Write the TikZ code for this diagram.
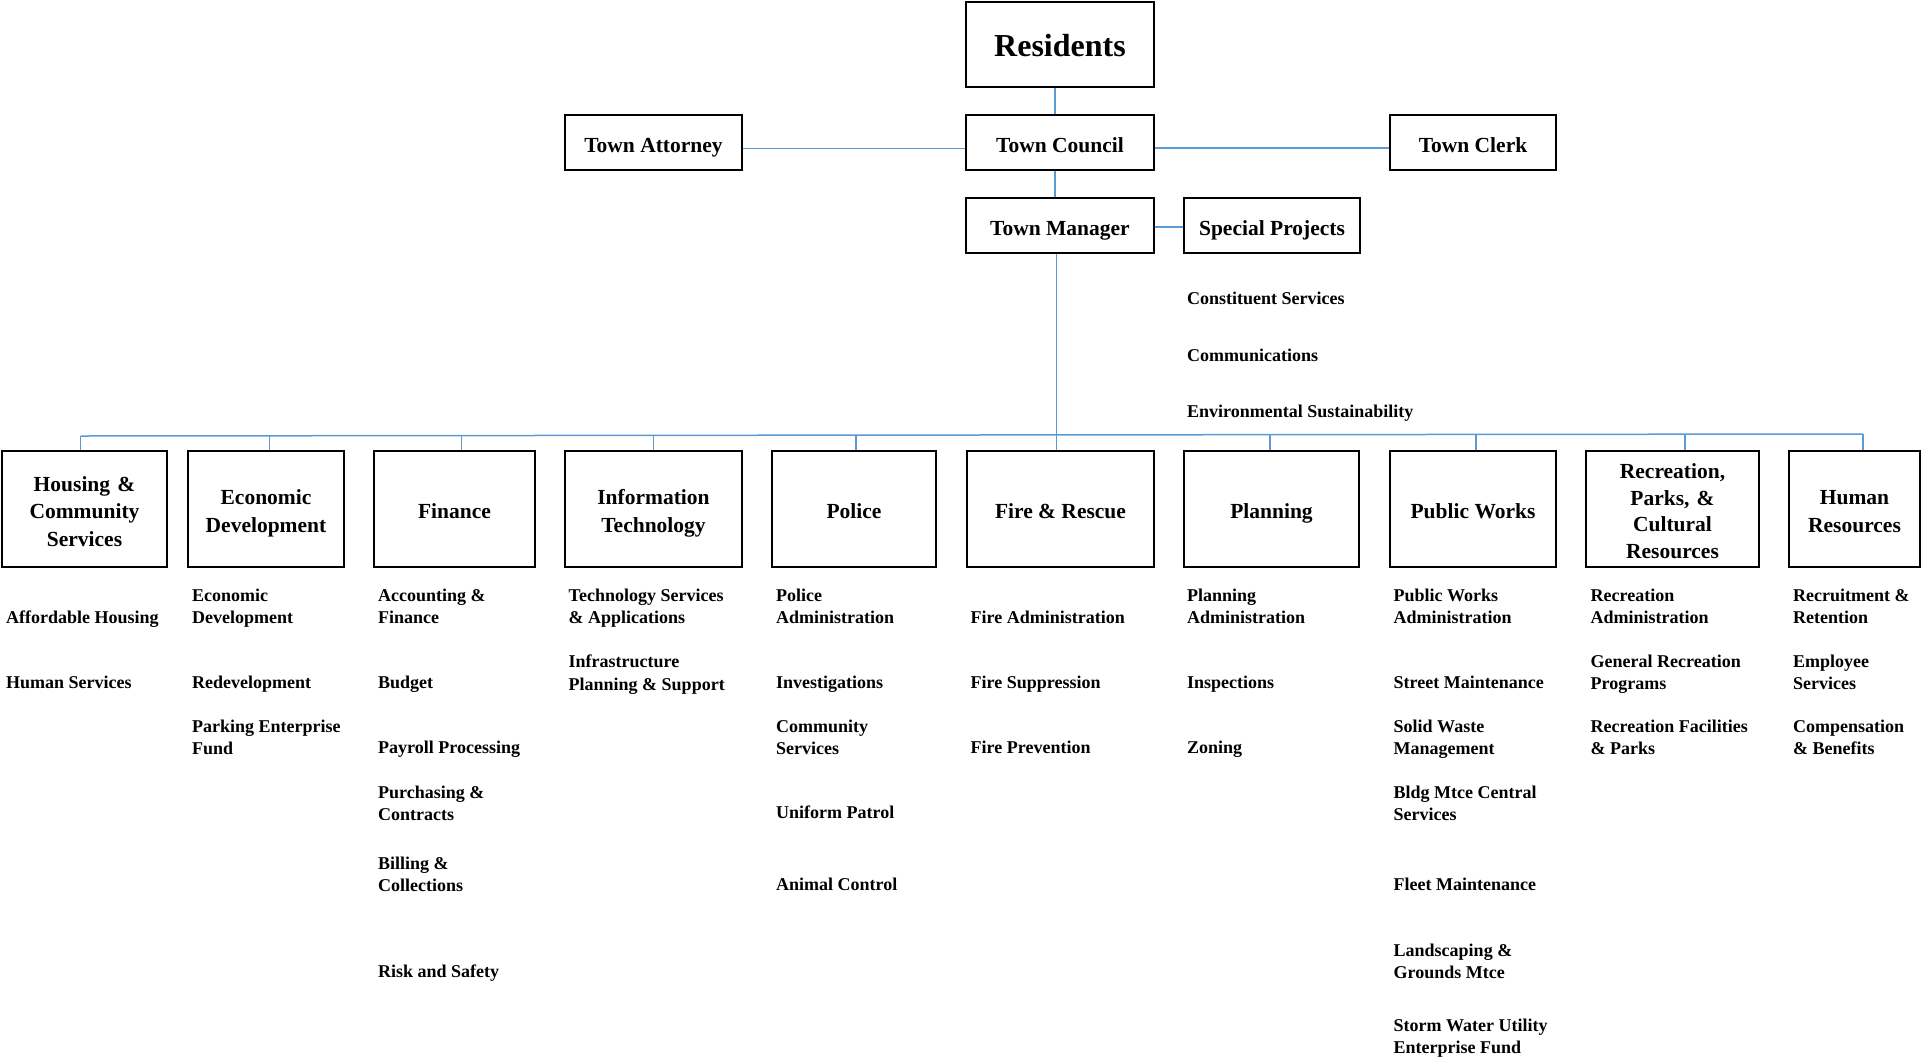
\documentclass[tikz,border=0pt]{standalone}
\usepackage{fontspec}
\setmainfont{Liberation Serif}
\definecolor{linkblue}{RGB}{91,155,213}
\tikzset{
    unit/.style={draw,line width=2pt,inner sep=0pt,minimum height=55pt,align=center,font=\fontsize{21.5}{27.5}\selectfont\bfseries,
        execute at begin node={\rule{0pt}{27.25pt}},execute at end node={\rule[-8.25pt]{0pt}{8.25pt}}},
    dept/.style={unit,minimum height=116pt},
    dept2/.style={dept,minimum width=#1,text width=#1},
    item/.style={anchor=north west,inner sep=0pt,align=left,yshift=15.75pt,font=\fontsize{18}{22.5}\selectfont\bfseries,execute at begin node=\strut},
    item2/.style={item,yshift=-4.5pt},
    link/.style={draw=linkblue,line width=1.5pt}
}
\begin{document}
\begin{tikzpicture}[x=1pt,y=-1pt]
        \useasboundingbox (0,0) rectangle (1921,1058);
        %% top of the chart
        \node[unit,line width=2.5pt,minimum width=188pt,minimum height=85pt,font=\fontsize{32}{38}\selectfont\bfseries,execute at begin node={\rule{0pt}{32.25pt}}] (residents) at (1060,44.5) {Residents};
        \node[unit,minimum width=177pt] (attorney) at (653.5,142.5) {Town Attorney};
        \node[unit,minimum width=188pt] (council) at (1060,142.5) {Town Council};
        \node[unit,minimum width=166pt] (clerk) at (1473,142.5) {Town Clerk};
        \node[unit,minimum width=188pt] (manager) at (1060,225.5) {Town Manager};
        \node[unit,minimum width=176pt] (special) at (1272,225.5) {Special Projects};
        \node[item] (sp1) at (1187,304) {Constituent Services};
        \node[item] (sp2) at (1187,361) {Communications};
        \node[item] (sp3) at (1187,417) {Environmental Sustainability};
        %% departments
        \node[dept2=165pt] (housing) at (84.5,509) {Housing \&\\Community\\Services};
        \node[dept2=156pt] (econ) at (266,509) {Economic\\Development};
        \node[dept,minimum width=161pt] (finance) at (454.5,509) {Finance};
        \node[dept2=177pt] (it) at (653.5,509) {Information\\Technology};
        \node[dept,minimum width=164.5pt] (police) at (854,509) {Police};
        \node[dept,minimum width=187pt] (fire) at (1060.5,509) {Fire \& Rescue};
        \node[dept,minimum width=175pt] (planning) at (1271.5,509) {Planning};
        \node[dept,minimum width=166pt] (works) at (1473,509) {Public Works};
        \node[dept2=173pt,font=\fontsize{21.5}{26.5}\selectfont\bfseries] (rec) at (1672.5,509) {Recreation,\\Parks, \&\\Cultural\\Resources};
        \node[dept2=131pt] (hr) at (1854.5,509) {Human\\Resources};
        %% divisions
        \node[item] (hcs1) at (6,623) {Affordable Housing};
        \node[item] (hcs2) at (6,688) {Human Services};
        \node[item2] (ed1) at (192,600) {Economic\\Development};
        \node[item] (ed2) at (192,688) {Redevelopment};
        \node[item2] (ed3) at (192,731) {Parking Enterprise\\Fund};
        \node[item2] (fin1) at (378,600) {Accounting \&\\Finance};
        \node[item] (fin2) at (378,688) {Budget};
        \node[item] (fin3) at (378,753) {Payroll Processing};
        \node[item2] (fin4) at (378,797) {Purchasing \&\\Contracts};
        \node[item2] (fin5) at (378,868) {Billing \&\\Collections};
        \node[item] (fin6) at (378,977) {Risk and Safety};
        \node[item2] (it1) at (568.5,600) {Technology Services\\\& Applications};
        \node[item2] (it2) at (568.5,666) {Infrastructure\\Planning \& Support};
        \node[item2] (pol1) at (776,600) {Police\\Administration};
        \node[item] (pol2) at (776,688) {Investigations};
        \node[item2] (pol3) at (776,731) {Community\\Services};
        \node[item] (pol4) at (776,818) {Uniform Patrol};
        \node[item] (pol5) at (776,890) {Animal Control};
        \node[item] (fr1) at (970.5,623) {Fire Administration};
        \node[item] (fr2) at (970.5,688) {Fire Suppression};
        \node[item] (fr3) at (970.5,753) {Fire Prevention};
        \node[item2] (pl1) at (1187,600) {Planning\\Administration};
        \node[item] (pl2) at (1187,688) {Inspections};
        \node[item] (pl3) at (1187,753) {Zoning};
        \node[item2] (pw1) at (1393.5,600) {Public Works\\Administration};
        \node[item] (pw2) at (1393.5,688) {Street Maintenance};
        \node[item2] (pw3) at (1393.5,731) {Solid Waste\\Management};
        \node[item2] (pw4) at (1393.5,797) {Bldg Mtce Central\\Services};
        \node[item] (pw5) at (1393.5,890) {Fleet Maintenance};
        \node[item2] (pw6) at (1393.5,955) {Landscaping \&\\Grounds Mtce};
        \node[item2] (pw7) at (1393.5,1030) {Storm Water Utility\\Enterprise Fund};
        \node[item2] (rpc1) at (1590.5,600) {Recreation\\Administration};
        \node[item2] (rpc2) at (1590.5,666) {General Recreation\\Programs};
        \node[item2] (rpc3) at (1590.5,731) {Recreation Facilities\\\& Parks};
        \node[item2] (hr1) at (1793,600) {Recruitment \&\\Retention};
        \node[item2] (hr2) at (1793,666) {Employee\\Services};
        \node[item2] (hr3) at (1793,731) {Compensation\\\& Benefits};
        %% links at the top
        \draw[link] ([xshift=-5pt]residents.south) -- ([xshift=-5pt]council.north);
        \draw[link] ([yshift=-6pt]attorney.east) -- ([yshift=-6pt]council.west);
        \draw[link] ([yshift=-5.5pt]council.east) -- ([yshift=-5.5pt]clerk.west);
        \draw[link] ([xshift=-5pt]council.south) -- ([xshift=-5pt]manager.north);
        \draw[link] ([yshift=-1.5pt]manager.east) -- ([yshift=-1.5pt]special.west);
        \draw[link] ([xshift=-3.5pt]manager.south) -- ([xshift=-4pt]fire.north);
        %% bus to the departments
        \draw[link] ([xshift=-4pt,yshift=14pt]housing.north) -- ([xshift=8.5pt,yshift=16pt]hr.north);
        \draw[link] ([xshift=-4pt]housing.north) -- ++(0,-14);
        \draw[link] ([xshift=3.5pt]econ.north) -- ++(0,-14);
        \draw[link] ([xshift=7pt]finance.north) -- ++(0,-14);
        \draw[link] (it.north) -- ++(0,-14.5);
        \draw[link] ([xshift=2pt]police.north) -- ++(0,-14.5);
        \draw[link] ([xshift=-1.5pt]planning.north) -- ++(0,-15);
        \draw[link] ([xshift=3pt]works.north) -- ++(0,-15.5);
        \draw[link] ([xshift=12.5pt]rec.north) -- ++(0,-15.5);
        \draw[link] ([xshift=8.5pt]hr.north) -- ++(0,-16);
    \end{tikzpicture}
\end{document}
